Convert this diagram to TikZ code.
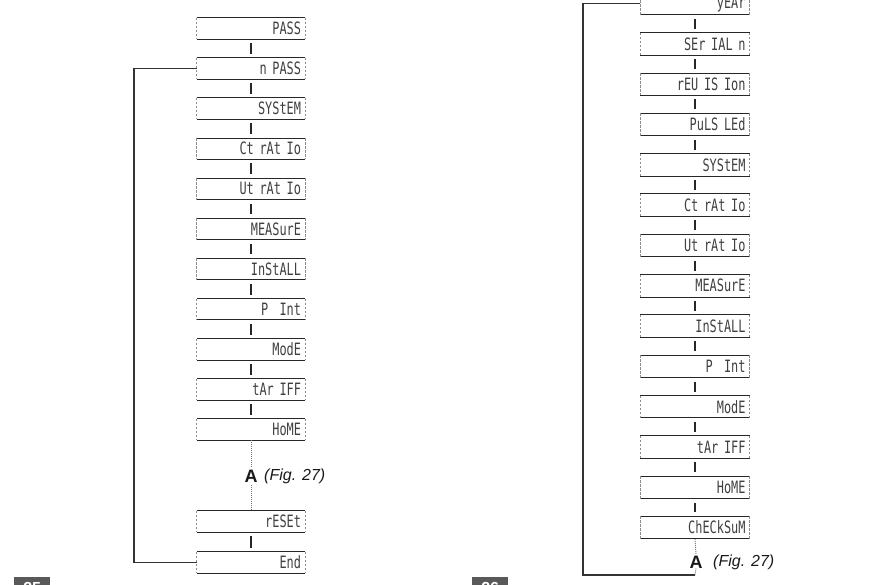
\documentclass[tikz,border=0pt]{standalone}
\usepackage{fontspec}
\setmainfont{Liberation Sans}
\newfontfamily\segfont[FakeStretch=0.7]{DejaVu Sans Mono}
\tikzset{
 disp/.style={inner xsep=4pt,inner ysep=0pt,text width=100pt,align=right,
  minimum height=21pt,font=\segfont\fontsize{17pt}{17pt}\selectfont,text=black!75},
 rim/.style={line width=1pt,draw=black!85},
 side/.style={line width=.8pt,draw=black!45,dash pattern=on 2.5pt off 1.5pt},
 tick/.style={line width=1.4pt,draw=black!85,shorten <=4pt,shorten >=4pt},
 back/.style={line width=1.5pt,draw=black!80},
 dots/.style={line width=.9pt,draw=black!55,dash pattern=on 1pt off 1pt},
 refA/.style={font=\bfseries\fontsize{18pt}{18pt}\selectfont,text=black!90,inner sep=0pt},
 reffig/.style={font=\itshape\fontsize{16pt}{16pt}\selectfont,text=black!90,inner sep=0pt,anchor=west},
 tab/.style={fill=black!65,text=white,font=\bfseries\fontsize{16pt}{16pt}\selectfont,
  anchor=north west,minimum width=36pt,minimum height=22pt,inner sep=1pt}
}
\begin{document}
\begin{tikzpicture}[x=1pt,y=1pt]
 \useasboundingbox (0,0) rectangle (874,-585);
 % left column
 \foreach \t [count=\i from 0] in {PASS,n PASS,SYStEM,Ct rAt Io,Ut rAt Io,MEASurE,InStALL,P\ \ Int,ModE,tAr IFF,HoME}
  \node[disp] (L\i) at (251,{-28.5-40.1*\i}) {\t};
 \node[disp] (L11) at (251,-521.5) {rESEt};
 \node[disp] (L12) at (251,-562.5) {End};
 \foreach \i in {0,...,12} {
  \draw[rim] (L\i.north west) -- (L\i.north east);
  \draw[rim] (L\i.south west) -- (L\i.south east);
  \draw[side] (L\i.north west) -- (L\i.south west);
  \draw[side] (L\i.north east) -- (L\i.south east);
 }
 \foreach \i [evaluate=\i as \j using int(\i+1)] in {0,...,9,11}
  \draw[tick] (L\i) -- (L\j);
 \node[refA] (LA) at (251,-476) {A};
 \node[reffig] (LF) at (264,-476) {(Fig. 27)};
 \draw[dots] (L10.south) -- ([yshift=2pt]LA.north);
 \draw[dots] ([yshift=-3pt]LA.south) -- (L11.north);
 \draw[back] (L1.west) -- ++(-63,0) |- (L12.west);
 % right column
 \foreach \t [count=\i from 0] in {yEAr,SEr IAL n,rEU IS Ion,PuLS LEd,SYStEM,Ct rAt Io,Ut rAt Io,MEASurE,InStALL,P\ \ Int,ModE,tAr IFF,HoME,ChECkSuM}
  \node[disp,minimum height=22pt,text width=101pt] (R\i) at (695,{-3.7-40.3*\i}) {\t};
 \foreach \i in {0,...,13} {
  \draw[rim] (R\i.north west) -- (R\i.north east);
  \draw[rim] (R\i.south west) -- (R\i.south east);
  \draw[side] (R\i.north west) -- (R\i.south west);
  \draw[side] (R\i.north east) -- (R\i.south east);
 }
 \foreach \i [evaluate=\i as \j using int(\i+1)] in {0,...,12}
  \draw[tick] (R\i) -- (R\j);
 \node[refA] (RA) at (696,-562) {A};
 \node[reffig] (RF) at (713,-562) {(Fig. 27)};
 \coordinate (rb) at (695,-575);
 \draw[dots] (R13.south) -- ([yshift=1pt]RA.north);
 \draw[dots] (RA.south) -- (rb);
 \draw[back] (rb) -- ++(-112,0) |- (R0.west);
 % figure tabs
 \node[tab] (t25) at (14,-577) {25};
 \node[tab] (t26) at (472,-577) {26};
\end{tikzpicture}
\end{document}
